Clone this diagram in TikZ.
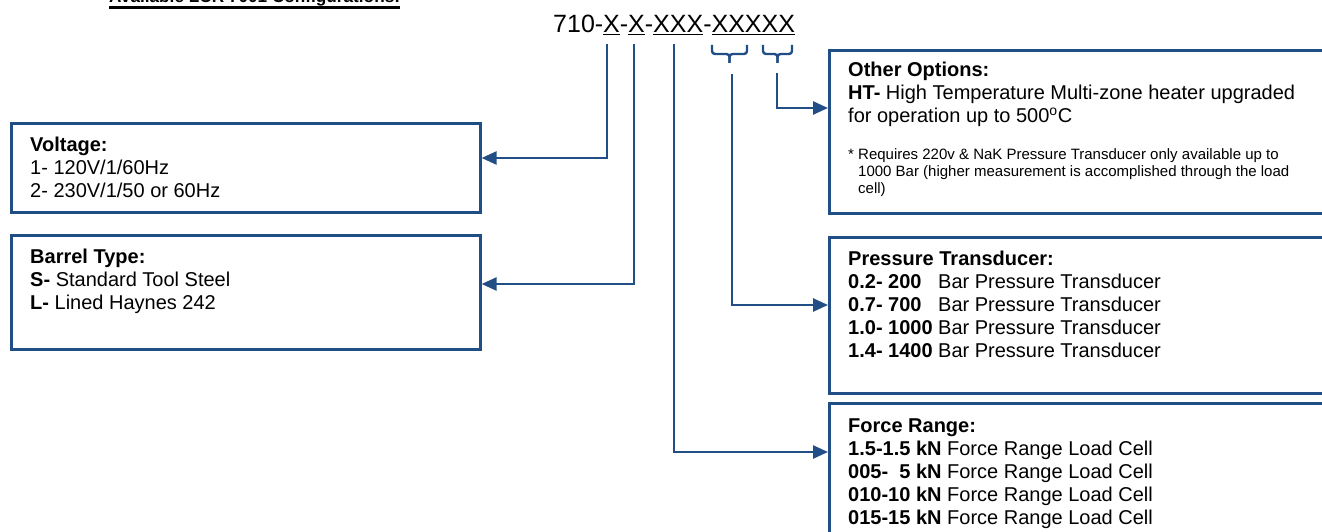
\documentclass[tikz,border=0pt]{standalone}
\usepackage{fontspec}
\setmainfont{Liberation Sans}
\usetikzlibrary{arrows.meta}
\definecolor{lineblue}{RGB}{34,78,134}
\newcommand{\fs}[2]{\fontsize{#1}{#2}\selectfont}
\begin{document}
\begin{tikzpicture}[x=1pt,y=-1pt,
  box/.style={draw=lineblue,line width=2.6pt,rectangle,inner sep=0pt,anchor=north west},
  txt/.style={inner sep=0pt,anchor=base west,text=black},
  conn/.style={draw=lineblue,line width=2.5pt,-{Triangle[length=15pt,width=13pt]}},
  brc/.style={draw=lineblue,line width=2.4pt,rounded corners=3pt}]
\useasboundingbox (0,0) rectangle (1322,532);
\clip (0,0) rectangle (1322,532);
\fill[white] (0,0) rectangle (1322,532);

% title and code
\node[txt,font=\fs{17.2}{20}\bfseries] (title) at (109,3) {Available LCR 7001 Configurations:};
\draw[line width=2.2pt] ([yshift=-4.5pt]title.base west) -- ([yshift=-4.5pt]title.base east);
\node[txt,font=\fs{25}{28}] (code) at (553,33) {710-\underline{X}-\underline{X}-\underline{XXX}-\underline{XXXXX}};

% boxes
\node[box,minimum width=469pt,minimum height=89pt] (volt) at (10,122) {};
\node[box,minimum width=469pt,minimum height=114pt] (barrel) at (10,234) {};
\node[box,minimum width=520pt,minimum height=163pt] (other) at (828,49) {};
\node[box,minimum width=520pt,minimum height=156pt] (press) at (828,236) {};
\node[box,minimum width=520pt,minimum height=160pt] (force) at (828,402) {};

% box texts
\node[txt,font=\fs{20}{23}] (volttxt) at (30,151) {\vtop{\hbox{\bfseries Voltage:}\hbox{1- 120V/1/60Hz}\hbox{2- 230V/1/50 or 60Hz}}};
\node[txt,font=\fs{20}{23}] (barreltxt) at (30,263) {\vtop{\hbox{\bfseries Barrel Type:}\hbox{\textbf{S-} Standard Tool Steel}\hbox{\textbf{L-} Lined Haynes 242}}};
\node[txt,font=\fs{20}{23}] (othertxt) at (848,77) {\vtop{\hbox{\bfseries Other Options:}\hbox{\textbf{HT-} High Temperature Multi-zone heater upgraded}\hbox{for operation up to 500\textsuperscript{o}C}}};
\node[txt,font=\fs{15}{16.5}] (notetxt) at (848,160) {\vtop{\hbox{* Requires 220v \& NaK Pressure Transducer only available up to}\hbox{\hskip10pt 1000 Bar (higher measurement is accomplished through the load}\hbox{\hskip10pt cell)}}};
\node[txt,font=\fs{20}{23}] (presstxt) at (848,265) {\vtop{\hbox{\bfseries Pressure Transducer:}
  \hbox{\makebox[90pt][l]{\bfseries 0.2- 200}Bar Pressure Transducer}
  \hbox{\makebox[90pt][l]{\bfseries 0.7- 700}Bar Pressure Transducer}
  \hbox{\makebox[90pt][l]{\bfseries 1.0- 1000}Bar Pressure Transducer}
  \hbox{\makebox[90pt][l]{\bfseries 1.4- 1400}Bar Pressure Transducer}}};
\node[txt,font=\fs{20}{23}] (forcetxt) at (848,432) {\vtop{\hbox{\bfseries Force Range:}
  \hbox{\textbf{1.5-1.5 kN} Force Range Load Cell}
  \hbox{\textbf{005-\ \ 5 kN} Force Range Load Cell}
  \hbox{\textbf{010-10 kN} Force Range Load Cell}
  \hbox{\textbf{015-15 kN} Force Range Load Cell}}};

% braces
\draw[brc] (712,45) |- (729.5,54) -- (729.5,63);
\draw[brc] (747,45) |- (729.5,54) -- (729.5,63);
\draw[brc] (763,45) |- (777.5,54) -- (777.5,63);
\draw[brc] (792,45) |- (777.5,54) -- (777.5,63);

% connector starts
\coordinate (c1) at (607,44);
\coordinate (c2) at (634,44);
\coordinate (c3) at (674,44);
\coordinate (c4) at (732,74);
\coordinate (c5) at (777,73);

\draw[conn] (c1) |- (volt.north east |- 0,158);
\draw[conn] (c2) |- (barrel.north east |- 0,284);
\draw[conn] (c3) |- (force.north west |- 0,452);
\draw[conn] (c4) |- (press.north west |- 0,305);
\draw[conn] (c5) |- (other.north west |- 0,108);
\end{tikzpicture}
\end{document}
